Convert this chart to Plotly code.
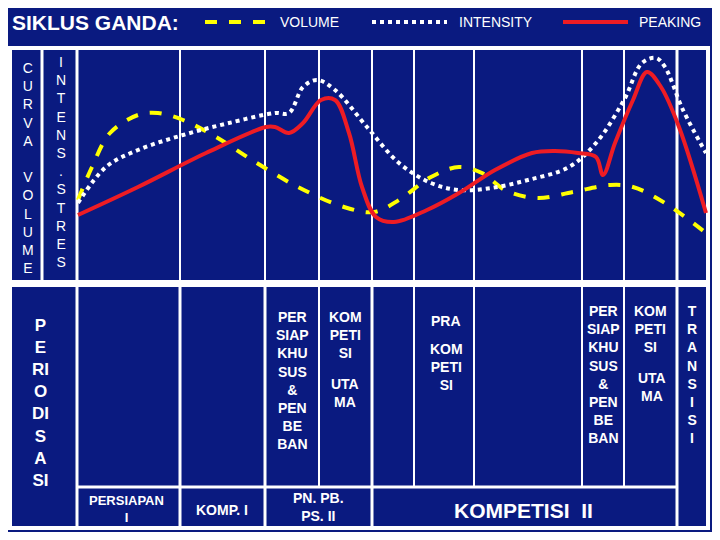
import plotly.graph_objects as go

# Curves (x: horizontal position, y: vertical position, pixel-like units)
vol_x = [78, 92, 110, 138, 158, 183, 216, 252, 298, 344, 374, 399, 431, 459, 482, 505, 537, 573, 610, 633, 665, 706]
vol_y = [200, 167, 133, 115, 113, 120, 137, 160, 187, 207, 212, 200, 177, 167, 173, 190, 198, 192, 185, 187, 203, 233]
int_x = [78, 106, 138, 183, 229, 275, 289, 303, 317, 335, 367, 399, 431, 459, 491, 528, 569, 596, 624, 642, 656, 665, 683, 706]
int_y = [203, 167, 150, 135, 123, 113, 113, 87, 80, 90, 127, 163, 183, 190, 188, 180, 167, 143, 100, 63, 58, 67, 110, 153]
pk_x = [78, 138, 206, 266, 275, 289, 303, 321, 335, 349, 362, 376, 394, 427, 459, 495, 532, 555, 578, 596, 603, 615, 633, 647, 661, 679, 706]
pk_y = [215, 187, 153, 127, 127, 133, 123, 100, 100, 133, 187, 217, 222, 210, 193, 170, 153, 151, 153, 157, 175, 143, 100, 72, 87, 127, 213]

legend_labels = ["VOLUME", "INTENSITY", "PEAKING"]

fig = go.Figure()
fig.add_trace(go.Scatter(x=vol_x, y=vol_y, mode="lines", line=dict(color="#ffff00", width=4, dash="dash", shape="spline")))
fig.add_trace(go.Scatter(x=int_x, y=int_y, mode="lines", line=dict(color="white", width=4, dash="dot", shape="spline")))
fig.add_trace(go.Scatter(x=pk_x, y=pk_y, mode="lines", line=dict(color="#ee1c24", width=4, shape="spline")))

W = "white"
shapes = []
def rect(x0, y0, x1, y1):
    shapes.append(dict(type="rect", xref="x", yref="y", x0=x0, y0=y0, x1=x1, y1=y1,
                       line=dict(color=W, width=4), layer="below"))
def vline(x, y0, y1, w=2):
    shapes.append(dict(type="line", xref="x", yref="y", x0=x, x1=x, y0=y0, y1=y1,
                       line=dict(color=W, width=w), layer="below"))
def hline(y, x0, x1, w=3):
    shapes.append(dict(type="line", xref="x", yref="y", x0=x0, x1=x1, y0=y, y1=y,
                       line=dict(color=W, width=w), layer="below"))

rect(10, 48, 708, 282)
rect(10, 285, 708, 528)
cols = [42, 77, 180, 265, 319, 372, 414, 474, 582, 624, 677]
for c in cols:
    vline(c, 48, 282, 3 if c in (42, 77, 677) else 2)
for c in [77, 180, 265, 319, 372, 414, 474, 582, 624, 677]:
    if c in (319, 414, 474, 582, 624):
        vline(c, 285, 487, 2)
    else:
        vline(c, 285, 528, 3)
hline(487, 77, 677)

# legend samples
shapes.append(dict(type="line", xref="x", yref="y", x0=205, x1=268, y0=22, y1=22, line=dict(color="#ffff00", width=4, dash="dash")))
shapes.append(dict(type="line", xref="x", yref="y", x0=372, x1=447, y0=22, y1=22, line=dict(color="white", width=4, dash="dot")))
shapes.append(dict(type="line", xref="x", yref="y", x0=563, x1=628, y0=22, y1=22, line=dict(color="#ee1c24", width=4)))

ann = []
def t(x, y, s, size=14, bold=True, anchor="top", xa="center"):
    ann.append(dict(x=x, y=y, xref="x", yref="y", text=(f"<b>{s}</b>" if bold else s), showarrow=False,
                    font=dict(color="white", size=size, family="Liberation Sans, Arial"),
                    xanchor=xa, yanchor=anchor, align="center"))

t(10, 22, "SIKLUS GANDA:", 21, True, "middle", "left")
t(278, 22, legend_labels[0], 14, False, "middle", "left")
t(457, 22, legend_labels[1], 14, False, "middle", "left")
t(637, 22, legend_labels[2], 14, False, "middle", "left")
t(28, 58, "<br>".join("CURVA") + "<br> <br>" + "<br>".join("VOLUME"), 14, False)
t(61, 52, "<br>".join("INTENS.STRES"), 14, False)
t(40, 314, "<br>".join(["P", "E", "RI", "O", "DI", "S", "A", "SI"]), 17)
pb = "PER<br>SIAP<br>KHU<br>SUS<br>&<br>PEN<br>BE<br>BAN"
t(292, 307, pb, 14)
t(345, 307, "KOM<br>PETI<br>SI", 14)
t(345, 374, "UTA<br>MA", 14)
t(446, 311, "PRA", 14)
t(446, 339, "KOM<br>PETI<br>SI", 14)
t(603, 301, pb, 14)
t(650, 301, "KOM<br>PETI<br>SI", 14)
t(652, 368, "UTA<br>MA", 14)
t(692, 301, "<br>".join("TRANSISI"), 14)
t(126, 491, "PERSIAPAN<br>I", 13)
t(222, 510, "KOMP. I", 14, True, "middle")
t(318, 488, "PN. PB.<br>PS. II", 14)
t(523, 510, "KOMPETISI  II", 21, True, "middle")

fig.update_layout(width=704, height=524, margin=dict(l=0, r=0, t=0, b=0),
                  paper_bgcolor="#0a1a80", plot_bgcolor="#0a1a80", showlegend=False,
                  shapes=shapes, annotations=ann,
                  xaxis=dict(range=[8, 712], visible=False, fixedrange=True),
                  yaxis=dict(range=[532, 8], visible=False, fixedrange=True))
fig.write_html("out.html")
